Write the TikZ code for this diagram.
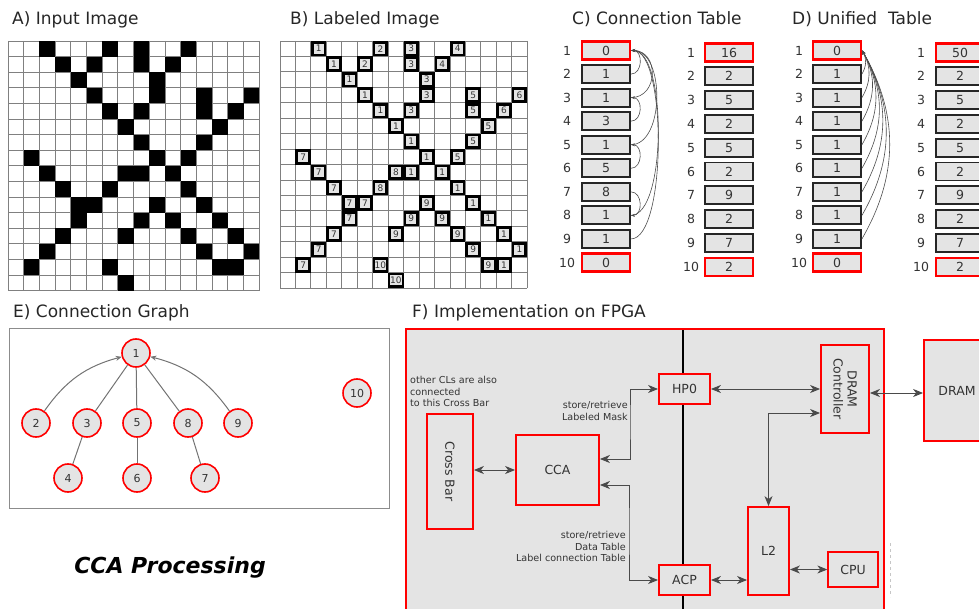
\documentclass[tikz,border=0pt]{standalone}
\usepackage{fontspec}
\setmainfont{DejaVu Sans}
\usetikzlibrary{positioning}
\usetikzlibrary{calc}
\usetikzlibrary{arrows.meta}

\definecolor{boxgray}{HTML}{E4E4E4}
\definecolor{txtgray}{HTML}{333333}
\definecolor{linegray}{HTML}{4A4A4A}
\definecolor{gridgray}{HTML}{808080}

% row/col/label of the foreground pixels
\newcommand{\ccacells}{0/2/1, 0/6/2, 0/8/3, 0/11/4,
  1/3/1, 1/5/2, 1/8/3, 1/10/4, 2/4/1, 2/9/3,
  3/5/1, 3/9/3, 3/12/5, 3/15/6, 4/6/1, 4/8/3, 4/12/5, 4/14/6,
  5/7/1, 5/13/5, 6/8/1, 6/12/5, 7/1/7, 7/9/1, 7/11/5,
  8/2/7, 8/7/8, 8/8/1, 8/10/1, 9/3/7, 9/6/8, 9/11/1,
  10/4/7, 10/5/7, 10/9/9, 10/12/1, 11/4/7, 11/8/9, 11/10/9, 11/13/1,
  12/3/7, 12/7/9, 12/11/9, 12/14/1, 13/2/7, 13/12/9, 13/15/1,
  14/1/7, 14/6/10, 14/13/9, 14/14/1, 15/7/10}

\begin{document}
\begin{tikzpicture}[x=1pt, y=-1pt,
    TTL/.style={anchor=base west, inner sep=0pt, text=black!85, font=\fontsize{17}{20}\selectfont},
    GRID/.style={draw=gridgray, line width=0.9pt},
    PIX/.style={rectangle, fill=boxgray, minimum size=10pt, inner sep=0pt, text=txtgray, font=\fontsize{9}{9}\selectfont},
    ROW/.style={inner sep=0pt, text=txtgray, font=\fontsize{12.5}{14}\selectfont},
    TBL/.style={rectangle, draw=black!85, fill=boxgray, line width=1.8pt, minimum width=48pt, minimum height=18pt, inner sep=0pt, text=txtgray, font=\fontsize{12.5}{14}\selectfont},
    TBLR/.style={rectangle, draw=red, fill=boxgray, line width=2.2pt, minimum width=48pt, minimum height=18pt, inner sep=0pt, text=txtgray, font=\fontsize{12.5}{14}\selectfont},
    LNK/.style={draw=black!70, line width=0.6pt, -{Stealth[length=4pt, width=3pt]}},
    GN/.style={circle, draw=red, fill=boxgray, line width=1.6pt, minimum size=28pt, inner sep=0pt, text=txtgray, font=\fontsize{11}{13}\selectfont},
    GE/.style={draw=black!55, line width=1pt},
    HW/.style={rectangle, draw=red, fill=boxgray, line width=1.8pt, inner sep=0pt, align=center, text=txtgray, font=\fontsize{12.5}{14}\selectfont},
    BUS/.style={draw=linegray, line width=0.9pt, {Stealth[length=10pt, width=8pt, inset=3pt]}-{Stealth[length=10pt, width=8pt, inset=3pt]}},
    NOTE/.style={inner sep=0pt, text=txtgray, font=\fontsize{9.6}{11.6}\selectfont},
    ]
    \useasboundingbox (0,0) rectangle (979,609);
    \clip (0,0) rectangle (979,609);

    \node[TTL] (tA) at (12,25) {A) Input Image};
    \node[TTL] (tB) at (290,25) {B) Labeled Image};
    \node[TTL] (tC) at (572,25) {C) Connection Table};
    \node[TTL] (tD) at (792,25) {D) Unified\ \ Table};
    \node[TTL] (tE) at (13,318) {E) Connection Graph};
    \node[TTL] (tF) at (412,318) {F) Implementation on FPGA};

    % A) input image
    \foreach \i in {0,...,16} {
        \draw[GRID] (8+\i*15.7, 41) -- (8+\i*15.7, 290.6);
        \draw[GRID] (8, 41+\i*15.6) -- (259.2, 41+\i*15.6);
    }
    \foreach \py/\px/\lab in \ccacells
        \fill[black] (8+\px*15.7, 41+\py*15.6) rectangle ++(15.7,15.6);

    % B) labeled image
    \foreach \i in {0,...,16} {
        \draw[GRID] (280+\i*15.45, 41) -- (280+\i*15.45, 288.2);
        \draw[GRID] (280, 41+\i*15.45) -- (527.2, 41+\i*15.45);
    }
    \foreach \py/\px/\lab in \ccacells {
        \fill[black] (280+\px*15.45, 41+\py*15.45) rectangle ++(15.45,15.45);
        \node[PIX] (p-\py-\px) at (280+\px*15.45+7.72, 41+\py*15.45+7.72) {\lab};
    }

    % C) connection table
    \node[TBLR] (c1) at (606,50.5) {0};
    \foreach \i/\v in {2/1,3/1,4/3,5/1,6/5,7/8,8/1,9/1}
        \node[TBL] (c\i) at (606, 27+\i*23.55) {\v};
    \node[TBLR] (c10) at (606,262.5) {0};
    \foreach \i in {1,...,10}
        \node[ROW] (cr\i) at (567, 27+\i*23.55) {\i};

    \node[TBLR] (s1) at (729,52.5) {16};
    \foreach \i/\v in {2/2,3/5,4/2,5/5,6/2,7/9,8/2,9/7}
        \node[TBL] (s\i) at (729, 28.7+\i*23.8) {\v};
    \node[TBLR] (s10) at (729,266.7) {2};
    \foreach \i in {1,...,10}
        \node[ROW] (sr\i) at (691, 28.7+\i*23.8) {\i};

    \draw[LNK] (c2.east) to[out=0, in=0, distance=12pt] (c1.east);
    \draw[LNK] (c3.east) to[out=0, in=0, distance=28pt] (c1.east);
    \draw[LNK] (c4.east) to[out=0, in=0, distance=12pt] (c3.east);
    \draw[LNK] (c5.east) to[out=0, in=0, distance=34pt] (c1.east);
    \draw[LNK] (c6.east) to[out=0, in=0, distance=12pt] (c5.east);
    \draw[LNK] (c7.east) to[out=0, in=0, distance=12pt] (c8.east);
    \draw[LNK] (c8.east) to[out=0, in=0, distance=36pt] (c1.east);
    \draw[LNK] (c9.east) to[out=0, in=0, distance=36pt] (c1.east);

    % D) unified table
    \node[TBLR] (d1) at (837,50.5) {0};
    \foreach \i in {2,...,9}
        \node[TBL] (d\i) at (837, 27+\i*23.55) {1};
    \node[TBLR] (d10) at (837,262.5) {0};
    \foreach \i in {1,...,10}
        \node[ROW] (dr\i) at (799, 27+\i*23.55) {\i};

    \node[TBLR] (u1) at (960,52.5) {50};
    \foreach \i/\v in {2/2,3/5,4/2,5/5,6/2,7/9,8/2,9/7}
        \node[TBL] (u\i) at (960, 28.7+\i*23.8) {\v};
    \node[TBLR] (u10) at (960,266.7) {2};
    \foreach \i in {1,...,10}
        \node[ROW] (ur\i) at (921, 28.7+\i*23.8) {\i};

    \foreach \i in {2,...,9}
        \draw[LNK] (d\i.east) to[bend right=30] (d1.east);

    % E) connection graph
    \node[draw=black!45, line width=1.3pt, minimum width=380pt, minimum height=180pt, anchor=north west] (gbox) at (9,328) {};
    \node[GN] (g1) at (136,353) {1};
    \node[GN] (g2) at (36,423) {2};
    \node[GN] (g3) at (87,423) {3};
    \node[GN] (g5) at (137,423) {5};
    \node[GN] (g8) at (188,423) {8};
    \node[GN] (g9) at (238,423) {9};
    \node[GN] (g4) at (68,478) {4};
    \node[GN] (g6) at (137,478) {6};
    \node[GN] (g7) at (205,478) {7};
    \node[GN] (g10) at (357,393) {10};
    \draw[GE, -{Stealth[length=6pt, width=5pt]}] (g2) to[bend left=20] (g1);
    \draw[GE, -{Stealth[length=6pt, width=5pt]}] (g9) to[bend right=20] (g1);
    \draw[GE] (g1) -- (g3);
    \draw[GE] (g1) -- (g5);
    \draw[GE] (g1) -- (g8);
    \draw[GE] (g3) -- (g4);
    \draw[GE] (g5) -- (g6);
    \draw[GE] (g8) -- (g7);

    \node[font=\fontsize{22}{26}\selectfont\bfseries\itshape] (proc) at (170,568) {CCA Processing};

    % F) implementation on FPGA
    \node[HW, minimum width=478pt, minimum height=320pt, anchor=north west] (fpga) at (405,328) {};
    \coordinate (bustop) at (683,330);
    \coordinate (busbot) at (683,620);
    \draw[black, line width=2pt] (bustop) -- (busbot);

    \node[HW, rotate=-90, minimum width=115pt, minimum height=46pt] (xbar) at (450,471.5) {Cross Bar};
    \node[HW, minimum width=83pt, minimum height=70pt] (cca) at (557.5,470) {CCA};
    \node[HW, minimum width=51pt, minimum height=30pt] (hp0) at (684.5,389) {HP0};
    \node[HW, minimum width=51pt, minimum height=30pt] (acp) at (684.5,580) {ACP};
    \node[HW, rotate=-90, minimum width=88pt, minimum height=48pt] (dctl) at (845,389) {DRAM\\Controller};
    \node[HW, minimum width=41pt, minimum height=88pt] (l2) at (768.5,551) {L2};
    \node[HW, line width=1.3pt, minimum width=50pt, minimum height=35pt] (cpu) at (853,569.5) {CPU};
    \node[HW, minimum width=66pt, minimum height=101pt] (dram) at (957,390.5) {DRAM};

    \node[NOTE, anchor=north west, align=left] (clnote) at (410,376) {other CLs are also\\connected\\to this Cross Bar};
    \node[NOTE, anchor=north east, align=right] (masknote) at (628,401) {store/retrieve\\Labeled Mask};
    \node[NOTE, anchor=north east, align=right] (tabnote) at (626,531) {store/retrieve\\Data Table\\Label connection Table};

    \coordinate (taph) at (630,420);
    \coordinate (tapa) at (629,530);
    \draw[BUS] (cca.west -| xbar.north) -- (cca.west);
    \draw[BUS] ([yshift=11pt]cca.east) -| (taph) |- (hp0.west);
    \draw[BUS] ([yshift=-15pt]cca.east) -| (tapa) |- (acp.west);
    \draw[BUS] (hp0.east) -- (dctl.south);
    \draw[BUS] (l2.north) |- ([yshift=-24pt]dctl.south);
    \draw[BUS] (acp.east) -- (acp.east -| l2.west);
    \draw[BUS] (cpu.west -| l2.east) -- (cpu.west);
    \draw[BUS] ([yshift=-4pt]dctl.north) -- ([yshift=-4pt]dctl.north -| dram.west);

    \draw[gray!45, dashed, line width=0.8pt] (890,543) -- (890,597);
\end{tikzpicture}
\end{document}
